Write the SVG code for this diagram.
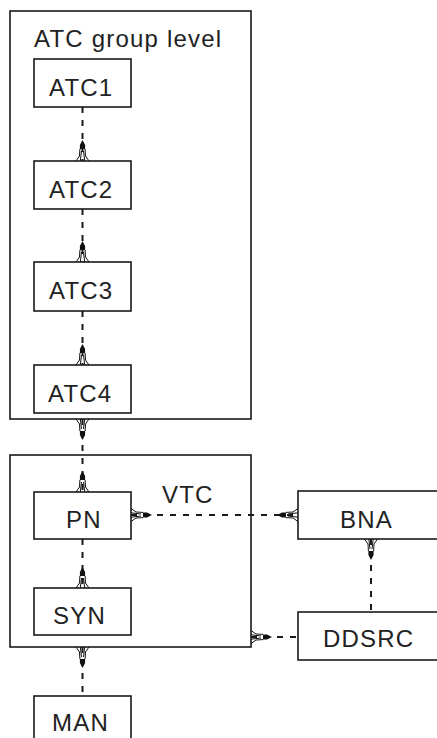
<svg xmlns="http://www.w3.org/2000/svg" width="437" height="738" viewBox="0 0 437 738">
<style>
.box{fill:#fff;stroke:#1a1a1a;stroke-width:1.6}
.frame{fill:none;stroke:#1a1a1a;stroke-width:1.6}
.lbl{font-family:"Liberation Sans",Arial,Helvetica,sans-serif;font-size:24px;letter-spacing:1.2px;fill:#222}
.conn{fill:none;stroke:#1a1a1a;stroke-width:2;stroke-dasharray:6,7}
</style>
<defs>
<marker id="fork" markerUnits="userSpaceOnUse" orient="auto-start-reverse" refX="0" refY="0" markerWidth="30" markerHeight="20" viewBox="-25 -10 30 20" overflow="visible">
<polygon points="-21,0 -16,-2.6 -12,-2.6 -12,2.6 -16,2.6" fill="#111"/>
<path d="M0,-6.5 L-5,-3 L-12,-2.6 M0,6.5 L-5,3 L-12,2.6 M0,-2.2 L-10,-1 M0,2.2 L-10,1" fill="none" stroke="#111" stroke-width="1"/>
</marker>
</defs>
<g id="atc-group">
<rect class="frame" x="10" y="11" width="241" height="408"/>
<text class="lbl" x="34" y="47">ATC group level</text>
</g>
<g id="vtc-group">
<rect class="frame" x="10" y="455" width="241" height="192"/>
<text class="lbl" x="162" y="503">VTC</text>
</g>
<g id="connectors">
<line class="conn" x1="82.5" y1="107" x2="82.5" y2="161" marker-end="url(#fork)"/>
<line class="conn" x1="82.5" y1="209" x2="82.5" y2="262" marker-end="url(#fork)"/>
<line class="conn" x1="82.5" y1="311" x2="82.5" y2="365" marker-end="url(#fork)"/>
<line class="conn" x1="82.5" y1="419" x2="82.5" y2="492" marker-start="url(#fork)" marker-end="url(#fork)"/>
<line class="conn" x1="131" y1="515" x2="298" y2="515" marker-start="url(#fork)" marker-end="url(#fork)"/>
<line class="conn" x1="82.5" y1="539" x2="82.5" y2="588" marker-end="url(#fork)"/>
<line class="conn" x1="82.5" y1="647" x2="82.5" y2="696" marker-start="url(#fork)"/>
<line class="conn" x1="371" y1="539" x2="371" y2="612" marker-start="url(#fork)"/>
<line class="conn" x1="251" y1="637" x2="298" y2="637" marker-start="url(#fork)"/>
</g>
<g id="ATC1">
<rect class="box" x="34" y="59" width="97" height="48"/>
<text class="lbl" x="49" y="96">ATC1</text>
</g>
<g id="ATC2">
<rect class="box" x="34" y="161" width="97" height="48"/>
<text class="lbl" x="49" y="198">ATC2</text>
</g>
<g id="ATC3">
<rect class="box" x="34" y="262" width="97" height="49"/>
<text class="lbl" x="49" y="299">ATC3</text>
</g>
<g id="ATC4">
<rect class="box" x="34" y="365" width="97" height="48"/>
<text class="lbl" x="48" y="402">ATC4</text>
</g>
<g id="PN">
<rect class="box" x="34" y="492" width="97" height="47"/>
<text class="lbl" x="66" y="528">PN</text>
</g>
<g id="SYN">
<rect class="box" x="34" y="588" width="97" height="47"/>
<text class="lbl" x="53" y="624">SYN</text>
</g>
<g id="MAN">
<rect class="box" x="34" y="696" width="97" height="48"/>
<text class="lbl" x="52" y="731">MAN</text>
</g>
<g id="BNA">
<rect class="box" x="298" y="491" width="145" height="48"/>
<text class="lbl" x="340" y="528">BNA</text>
</g>
<g id="DDSRC">
<rect class="box" x="298" y="612" width="145" height="48"/>
<text class="lbl" x="323" y="647">DDSRC</text>
</g>
</svg>
